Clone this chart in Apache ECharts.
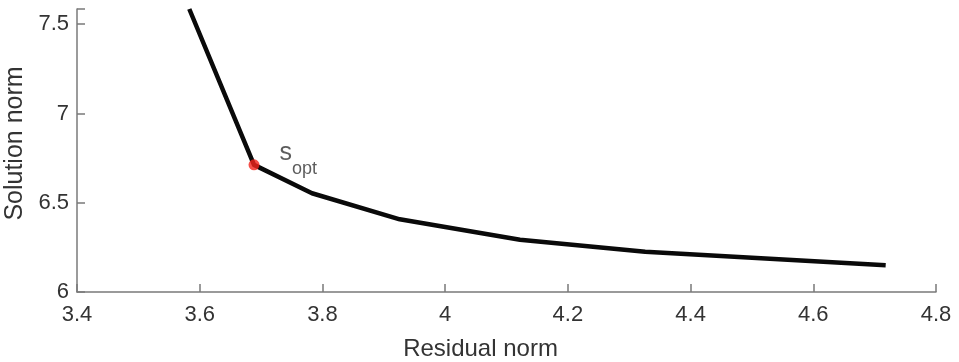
<!DOCTYPE html>
<html>
<head>
<meta charset="utf-8">
<script src="https://cdn.jsdelivr.net/npm/echarts@6/dist/echarts.min.js"></script>
<style>
  html, body { margin: 0; padding: 0; background: #ffffff; }
  #chart { width: 959px; height: 362px; }
</style>
</head>
<body>
<div id="chart"></div>
<script>
// L-curve: residual norm vs. solution norm
const residualNorm = [3.583, 3.6885, 3.783, 3.926, 4.122, 4.326, 4.718];
const solutionNorm = [7.585, 6.712, 6.553, 6.407, 6.293, 6.226, 6.150];
// optimal regularisation point
const optPoint = [3.6885, 6.712];
const xTicks = [3.4, 3.6, 3.8, 4, 4.2, 4.4, 4.6, 4.8];
const yTicks = [6, 6.5, 7, 7.5];

const FONT = 'Liberation Sans, Arial, sans-serif';
const TEXT = '#333333';
const AXIS = '#7a7a7a';

const tickText = (list, v) => {
  const t = list.find(k => Math.abs(k - v) < 1e-9);
  return t === undefined ? '' : String(t);
};

const chart = echarts.init(document.getElementById('chart'), null, { renderer: 'canvas' });

chart.setOption({
  backgroundColor: '#ffffff',
  animation: false,
  grid: { left: 77, right: 23, top: 9, bottom: 70, containLabel: false, outerBoundsMode: 'none' },
  xAxis: {
    type: 'value',
    min: xTicks[0],
    max: xTicks[xTicks.length - 1],
    interval: 0.2,
    name: 'Residual norm',
    nameLocation: 'middle',
    nameGap: 45,
    nameTextStyle: { fontFamily: FONT, fontSize: 24, color: TEXT, padding: [0, 52, 0, 0] },
    axisLine: { show: true, onZero: false, lineStyle: { color: AXIS, width: 1.5 } },
    axisTick: { show: true, inside: true, length: 8, lineStyle: { color: AXIS, width: 1.5 } },
    axisLabel: {
      fontFamily: FONT, fontSize: 22, color: TEXT, margin: 12,
      showMinLabel: true, showMaxLabel: true,
      formatter: v => tickText(xTicks, v)
    },
    splitLine: { show: false }
  },
  yAxis: {
    type: 'value',
    min: yTicks[0],
    max: 7.585,
    interval: 0.5,
    name: 'Solution norm',
    nameLocation: 'middle',
    nameGap: 47,
    nameTextStyle: { fontFamily: FONT, fontSize: 25, color: TEXT, padding: [0, 0, 0, 14] },
    axisLine: { show: true, onZero: false, lineStyle: { color: AXIS, width: 1.5 } },
    axisTick: { show: true, inside: true, length: 8, lineStyle: { color: AXIS, width: 1.5 } },
    axisLabel: {
      fontFamily: FONT, fontSize: 22, color: TEXT, margin: 8,
      formatter: v => tickText(yTicks, v)
    },
    splitLine: { show: false }
  },
  series: [
    {
      type: 'line',
      data: residualNorm.map((x, i) => [x, solutionNorm[i]]),
      showSymbol: false,
      clip: true,
      lineStyle: { color: '#0a0a0a', width: 4.5, join: 'round', cap: 'butt' },
      z: 2
    },
    {
      type: 'scatter',
      data: [optPoint],
      symbol: 'circle',
      symbolSize: 11,
      itemStyle: { color: '#f2231b' },
      label: {
        show: true,
        position: 'right',
        distance: 0,
        offset: [20, -12],
        color: TEXT,
        formatter: '{s|s}{sub|opt}',
        rich: {
          s: { fontFamily: FONT, fontSize: 25, color: TEXT, verticalAlign: 'bottom', lineHeight: 26 },
          sub: { fontFamily: FONT, fontSize: 18, color: TEXT, verticalAlign: 'bottom', padding: [0, 0, -12, 0], lineHeight: 26 }
        }
      },
      z: 3
    }
  ]
});
</script>
</body>
</html>
